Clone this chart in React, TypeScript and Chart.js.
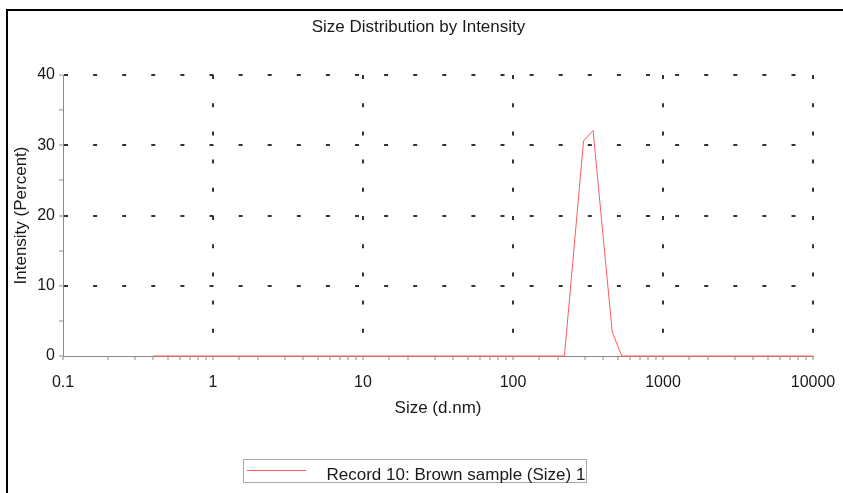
import React, { useEffect, useRef } from "react";
import { Chart, registerables } from "chart.js";

Chart.register(...registerables);

const chartTitle = "Size Distribution by Intensity";
const xAxisTitle = "Size (d.nm)";
const yAxisTitle = "Intensity (Percent)";
const seriesLabel = "Record 10: Brown sample (Size) 1";

const sizes = [0.4, 220.2, 295.3, 341.9, 458.7, 531.2, 10000];
const intensity = [0, 0, 30.6, 32.1, 3.4, 0, 0];

const xTickLabels = ["0.1", "1", "10", "100", "1000", "10000"];
const yTickValues = [0, 10, 20, 30, 40];

const FONT = '"Liberation Sans", Arial, sans-serif';
const RED = "#ff5c5c";

function pow10Index(v: number): number {
  const e = Math.log10(v);
  const r = Math.round(e);
  return Math.abs(e - r) < 1e-6 ? r : NaN;
}

const decorPlugin = {
  id: "decor",
  afterDraw(chart: any) {
    const ctx = chart.ctx;
    ctx.save();
    // frame
    ctx.fillStyle = "#000";
    ctx.fillRect(6, 9, chart.width - 6, 2);
    ctx.fillRect(6, 9, 2, chart.height - 9);
    // title
    ctx.font = `17px ${FONT}`;
    ctx.fillStyle = "#1a1a1a";
    ctx.textAlign = "center";
    ctx.textBaseline = "middle";
    ctx.fillText(chartTitle, 418.5, 27.5);
    // legend
    const ds = chart.data.datasets[0];
    ctx.strokeStyle = "#a8a8a8";
    ctx.lineWidth = 1;
    ctx.strokeRect(243.5, 459.5, 343, 23);
    ctx.strokeStyle = ds.borderColor;
    ctx.beginPath();
    ctx.moveTo(247, 470.5);
    ctx.lineTo(306, 470.5);
    ctx.stroke();
    ctx.textAlign = "left";
    ctx.textBaseline = "alphabetic";
    ctx.fillStyle = "#1a1a1a";
    ctx.fillText(ds.label, 326.5, 480);
    ctx.restore();
  },
};

export default function App() {
  const ref = useRef<HTMLCanvasElement>(null);

  useEffect(() => {
    if (!ref.current) return;
    const chart = new Chart(ref.current, {
      type: "line",
      data: {
        datasets: [
          {
            label: seriesLabel,
            data: sizes.map((s, i) => ({ x: s, y: intensity[i] })),
            borderColor: RED,
            backgroundColor: RED,
            borderWidth: 1,
            pointRadius: 0,
            tension: 0,
            fill: false,
            clip: false as any,
          },
        ],
      },
      options: {
        animation: false,
        responsive: false,
        layout: { padding: { top: 75, left: 0, right: 30, bottom: 73 } },
        plugins: {
          legend: { display: false },
          title: { display: false },
          tooltip: { enabled: false },
        },
        scales: {
          x: {
            type: "logarithmic",
            min: 0.1,
            max: 10000,
            afterFit: (scale: any) => {
              scale.height = 64;
              scale.paddingLeft = 0;
              scale.paddingRight = 0;
            },
            title: {
              display: true,
              text: xAxisTitle,
              color: "#1a1a1a",
              font: { family: FONT, size: 17 },
              padding: { top: 0, bottom: 1 },
            },
            ticks: {
              autoSkip: false,
              maxRotation: 0,
              minRotation: 0,
              padding: 13,
              color: "#1a1a1a",
              font: { family: FONT, size: 16 },
              callback: (value: any) => {
                const idx = pow10Index(Number(value));
                return isNaN(idx) ? "" : xTickLabels[idx + 1] ?? "";
              },
            },
            grid: {
              drawTicks: true,
              tickLength: 4,
              tickColor: "#8a8a8a",
              tickWidth: 1,
              lineWidth: 2,
              color: (ctx: any) => {
                const v = ctx.tick ? ctx.tick.value : 0;
                const idx = pow10Index(v);
                return !isNaN(idx) && idx > -1 ? "#333" : "rgba(0,0,0,0)";
              },
            },
            border: {
              display: true,
              color: "#8a8a8a",
              width: 1,
              dash: [4, 24.2],
            },
          },
          y: {
            type: "linear",
            min: 0,
            max: 40,
            afterFit: (scale: any) => {
              scale.width = 63;
            },
            title: {
              display: true,
              text: yAxisTitle,
              color: "#1a1a1a",
              font: { family: FONT, size: 17 },
              padding: { top: 11, bottom: 0 },
            },
            ticks: {
              stepSize: 5,
              padding: 4,
              color: "#1a1a1a",
              font: { family: FONT, size: 16 },
              callback: (value: any) =>
                yTickValues.includes(Number(value)) ? String(value) : "",
            },
            grid: {
              drawTicks: true,
              tickLength: 4,
              tickColor: "#8a8a8a",
              tickWidth: 1,
              lineWidth: 2,
              color: (ctx: any) => {
                const v = ctx.tick ? ctx.tick.value : 0;
                return v > 0 && yTickValues.includes(v) ? "#333" : "rgba(0,0,0,0)";
              },
            },
            border: {
              display: true,
              color: "#8a8a8a",
              width: 1,
              dash: [4, 25.1],
            },
          },
        },
      },
      plugins: [decorPlugin],
    });
    return () => chart.destroy();
  }, []);

  return (
    <canvas
      ref={ref}
      width={843}
      height={493}
      style={{ position: "absolute", left: 0, top: 0, width: 843, height: 493, display: "block" }}
    />
  );
}
